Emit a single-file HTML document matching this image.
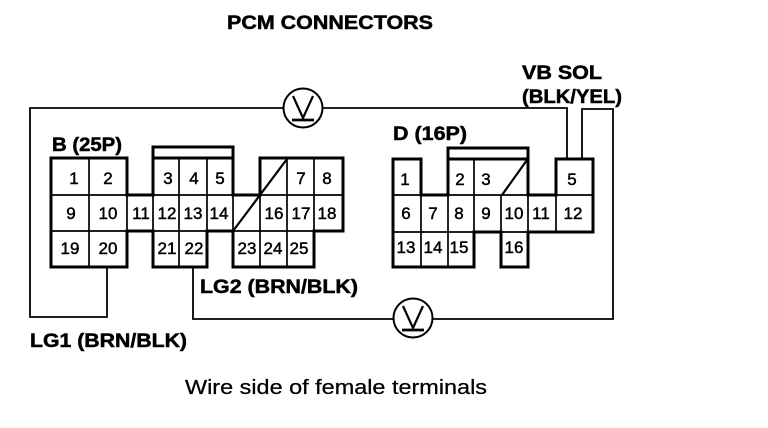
<!DOCTYPE html>
<html><head><meta charset="utf-8"><style>
html,body{margin:0;padding:0;background:#fff;width:768px;height:428px;overflow:hidden}
svg{display:block}
text{font-family:"Liberation Sans",sans-serif;fill:#000}
.b{font-weight:bold;font-size:19px;stroke:#000;stroke-width:.5}
.n{font-size:17px;text-anchor:middle;stroke:#000;stroke-width:.45}
</style></head><body>
<svg width="768" height="428" viewBox="0 0 768 428" xmlns="http://www.w3.org/2000/svg">
<rect width="768" height="428" fill="#fff"/>
<text class="b" x="227" y="29" textLength="206" lengthAdjust="spacingAndGlyphs">PCM CONNECTORS</text>
<text class="b" x="522" y="79" textLength="80" lengthAdjust="spacingAndGlyphs">VB SOL</text>
<text class="b" x="522" y="103" textLength="100" lengthAdjust="spacingAndGlyphs">(BLK/YEL)</text>
<text class="b" x="52" y="151" textLength="70" lengthAdjust="spacingAndGlyphs">B (25P)</text>
<text class="b" x="393" y="140" textLength="74" lengthAdjust="spacingAndGlyphs">D (16P)</text>
<text class="b" x="200" y="293" textLength="158" lengthAdjust="spacingAndGlyphs">LG2 (BRN/BLK)</text>
<text class="b" x="30" y="347" textLength="157" lengthAdjust="spacingAndGlyphs">LG1 (BRN/BLK)</text>
<text x="185" y="394" font-size="20" stroke="#000" stroke-width=".25" textLength="302" lengthAdjust="spacingAndGlyphs">Wire side of female terminals</text>

<g fill="none" stroke="#000" stroke-width="1.8">
<!-- wires -->
<path d="M107 267V317H30V108H283M322 108H567V159"/>
<path d="M582 159V109H613V319H432M393 319H193V267"/>
<!-- meters -->
<circle cx="303" cy="108" r="19.5" stroke-width="2"/>
<circle cx="413" cy="318" r="19.5" stroke-width="2"/>
<path d="M293 96L303 118L313 96" stroke-width="2.2"/>
<path d="M292 120H314" stroke-width="2.8"/>
<path d="M403 306L413 328L423 306" stroke-width="2.2"/>
<path d="M402 330H424" stroke-width="2.8"/>
</g>

<g fill="none" stroke="#000" stroke-width="3">
<!-- B connector outline -->
<path d="M51 158H127V195H153V147H233V195H260V158H343V231H314V267H233V231H207V267H153V231H127V267H51Z"/>
<path d="M153 158H233"/>
<!-- D connector outline -->
<path d="M393 159H421V195H448V148H528V195H556V159H593V232H528V267H501V232H474V267H393Z"/>
<path d="M448 159H528"/>
</g>
<g fill="none" stroke="#000" stroke-width="1.7">
<!-- B internal -->
<path d="M51 195H343M51 231H343"/>
<path d="M89 158V267M127 195V231M153 195V231M179 158V267M207 158V231M233 195V231M260 195V267M287 158V267M314 158V231"/>
<path d="M287 159L233 231" stroke-width="2.2"/>
<!-- D internal -->
<path d="M393 195H593M393 232H528"/>
<path d="M421 195V267M448 195V267M474 159V232M501 195V232M528 195V232M556 195V232"/>
<path d="M527 160L502 195" stroke-width="2.2"/>
</g>

<g class="nums">
<text class="n" x="74" y="184">1</text><text class="n" x="108" y="184">2</text>
<text class="n" x="168" y="184">3</text><text class="n" x="194" y="184">4</text><text class="n" x="220" y="184">5</text>
<text class="n" x="301" y="184">7</text><text class="n" x="327" y="184">8</text>
<text class="n" x="71" y="219">9</text><text class="n" x="108" y="219">10</text><text class="n" x="141" y="219">11</text>
<text class="n" x="167" y="219">12</text><text class="n" x="193" y="219">13</text><text class="n" x="219" y="219">14</text>
<text class="n" x="274" y="219">16</text><text class="n" x="301" y="219">17</text><text class="n" x="327" y="219">18</text>
<text class="n" x="70" y="254">19</text><text class="n" x="108" y="254">20</text>
<text class="n" x="167" y="254">21</text><text class="n" x="194" y="254">22</text>
<text class="n" x="247" y="254">23</text><text class="n" x="273" y="254">24</text><text class="n" x="299" y="254">25</text>

<text class="n" x="405" y="185">1</text><text class="n" x="460" y="185">2</text><text class="n" x="486" y="185">3</text><text class="n" x="572" y="185">5</text>
<text class="n" x="406" y="219">6</text><text class="n" x="433" y="219">7</text><text class="n" x="459" y="219">8</text><text class="n" x="486" y="219">9</text>
<text class="n" x="514" y="219">10</text><text class="n" x="541" y="219">11</text><text class="n" x="573" y="219">12</text>
<text class="n" x="406" y="253">13</text><text class="n" x="433" y="253">14</text><text class="n" x="459" y="253">15</text><text class="n" x="514" y="253">16</text>
</g>
</svg>
</body></html>
